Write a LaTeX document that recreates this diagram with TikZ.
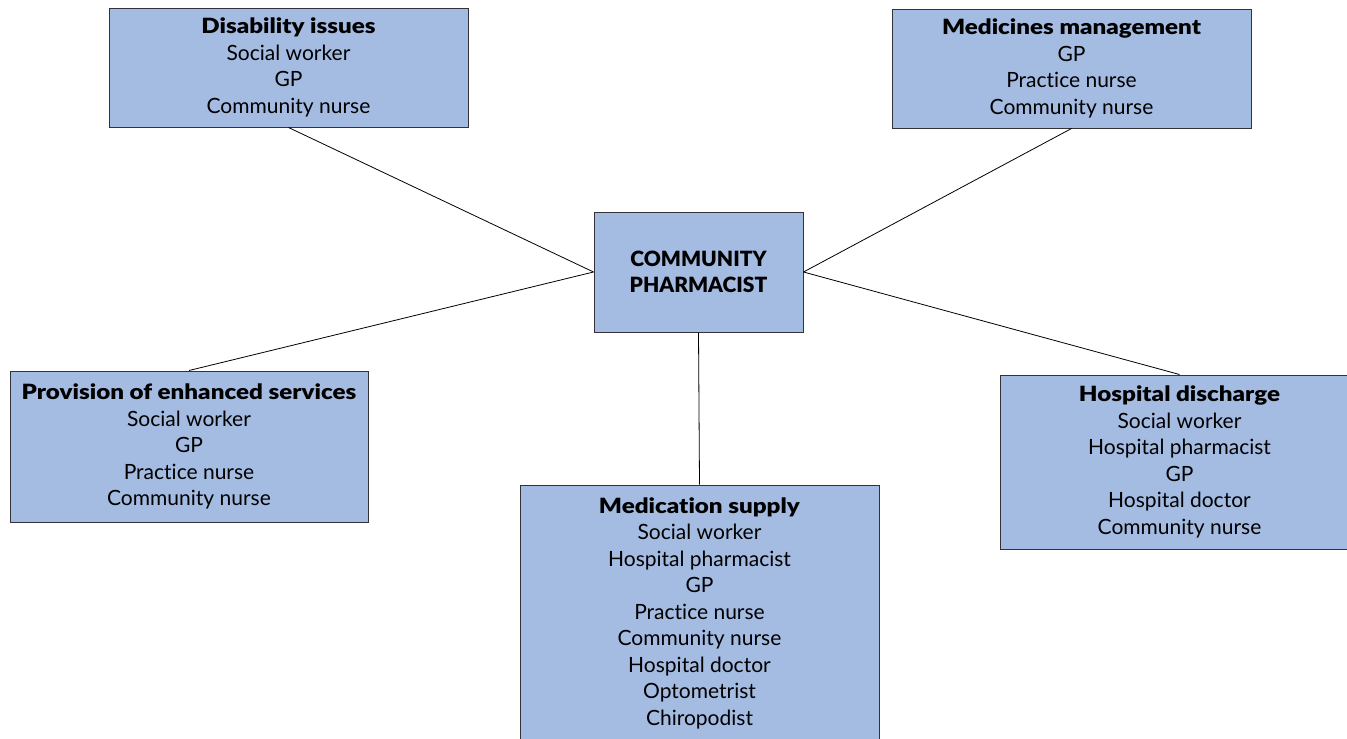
\documentclass[tikz,border=0pt]{standalone}
\usepackage{fontspec}
\setmainfont{Lato}[Ligatures=NoCommon, BoldFont={Lato Black}, BoldFeatures={FakeStretch=1.15}]
\newfontfamily\capsblack{Lato Black}
\definecolor{boxblue}{RGB}{164,187,226}
\definecolor{edge}{RGB}{50,50,55}
\begin{document}
\begin{tikzpicture}[x=1pt,y=-1pt,
  box/.style={draw=edge, fill=boxblue, line width=1pt, align=center, inner sep=0pt,
    font=\fontsize{21}{26.5}\selectfont},
  link/.style={draw=black, line width=0.8pt}]
\useasboundingbox (0,0) rectangle (1347,739);
\clip (0,0) rectangle (1347,739);
\node[box, minimum width=359pt, minimum height=119pt] (dis) at (288.5,67.5)
  {\textbf{Disability issues}\\Social worker\\GP\\Community nurse};
\node[box, minimum width=359pt, minimum height=119pt] (med) at (1071.5,68.5)
  {\textbf{Medicines management}\\GP\\Practice nurse\\Community nurse};
\node[box, minimum width=209pt, minimum height=120pt] (ph) at (698.5,272)
  {\capsblack COMMUNITY\\\capsblack PHARMACIST};
\node[box, minimum width=358pt, minimum height=151pt] (prov) at (189,446.5)
  {\textbf{Provision of enhanced services}\\Social worker\\GP\\Practice nurse\\Community nurse};
\node[box, minimum width=359pt, minimum height=256pt] (ms) at (699.5,613)
  {\textbf{Medication supply}\\Social worker\\Hospital pharmacist\\GP\\Practice nurse\\Community nurse\\Hospital doctor\\Optometrist\\Chiropodist};
\node[box, minimum width=359pt, minimum height=174pt] (hd) at (1179.5,462)
  {\textbf{Hospital discharge}\\Social worker\\Hospital pharmacist\\GP\\Hospital doctor\\Community nurse};
\draw[link] (dis.south) -- (ph.west);
\draw[link] (med.south) -- (ph.east);
\draw[link] (prov.north) -- (ph.west);
\draw[link] (hd.north) -- (ph.east);
\draw[link] (ms.north) -- (ph.south);
\end{tikzpicture}
\end{document}
